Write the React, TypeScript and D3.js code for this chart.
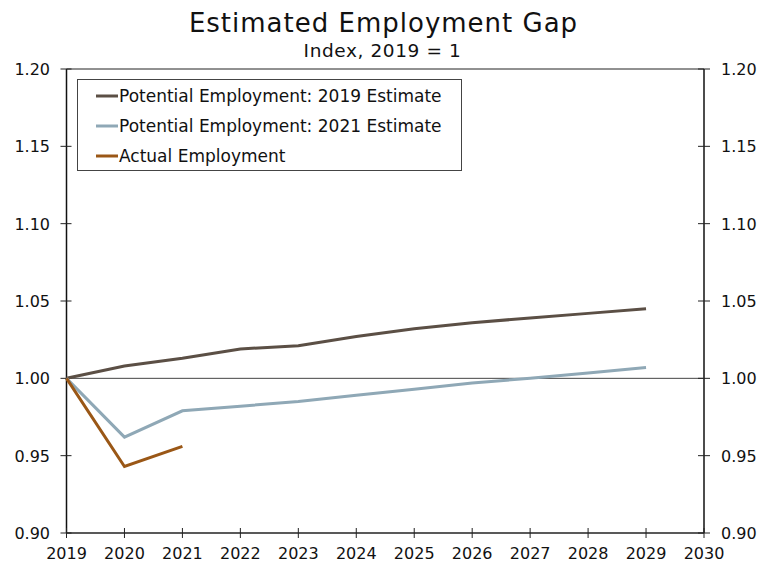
import React from "react";
import * as d3 from "d3";

const years = [2019, 2020, 2021, 2022, 2023, 2024, 2025, 2026, 2027, 2028, 2029];
const est2019 = [1.0, 1.008, 1.013, 1.019, 1.021, 1.027, 1.032, 1.036, 1.039, 1.042, 1.045];
const est2021 = [1.0, 0.962, 0.979, 0.982, 0.985, 0.989, 0.993, 0.997, 1.0, 1.0035, 1.007];
const actualYears = [2019, 2020, 2021];
const actual = [1.0, 0.943, 0.956];
const xTicks = [2019, 2020, 2021, 2022, 2023, 2024, 2025, 2026, 2027, 2028, 2029, 2030];
const yTicks = [0.9, 0.95, 1.0, 1.05, 1.1, 1.15, 1.2];
const seriesNames = [
  "Potential Employment: 2019 Estimate",
  "Potential Employment: 2021 Estimate",
  "Actual Employment",
];
const colors = ["#5b4f45", "#8fa8b6", "#9a5716"];

export default function App() {
  const W = 759, H = 565;
  const L = 66.5, R = 704, T = 69, B = 533;
  const x = d3.scaleLinear().domain([2019, 2030]).range([L, R]);
  const y = d3.scaleLinear().domain([0.9, 1.2]).range([B, T]);
  const line = d3.line<[number, number]>().x(d => x(d[0])).y(d => y(d[1]));
  const data: [number, number][][] = [
    years.map((yr, i) => [yr, est2019[i]]),
    years.map((yr, i) => [yr, est2021[i]]),
    actualYears.map((yr, i) => [yr, actual[i]]),
  ];
  const font = "DejaVu Sans, Verdana, sans-serif";
  return (
    <svg width={W} height={H} style={{ position: "absolute", left: 0, top: 0 }} fontFamily={font}>
      <rect width={W} height={H} fill="#fff" />
      <text x={383.5} y={32} textAnchor="middle" fontSize={26} letterSpacing={1} fill="#111">Estimated Employment Gap</text>
      <text x={382.5} y={57} textAnchor="middle" fontSize={18.5} letterSpacing={0.6} fill="#111">Index, 2019 = 1</text>
      {/* frame */}
      <line x1={L} x2={R} y1={T} y2={T} stroke="#222" strokeWidth={1} />
      <line x1={L} x2={L} y1={T} y2={B} stroke="#111" strokeWidth={1.5} />
      <line x1={R} x2={R} y1={T} y2={B} stroke="#111" strokeWidth={1.5} />
      <line x1={L} x2={R} y1={B} y2={B} stroke="#222" strokeWidth={1.5} />
      {/* zero line */}
      <line x1={L} x2={R} y1={y(1)} y2={y(1)} stroke="#444" strokeWidth={1} />
      {yTicks.map(t => (
        <g key={t}>
          <line x1={L - 6} x2={L + 5} y1={y(t)} y2={y(t)} stroke="#222" />
          <line x1={R - 6} x2={R + 6} y1={y(t)} y2={y(t)} stroke="#222" />
          <text x={50} y={y(t) + 6} textAnchor="end" fontSize={16} fill="#111">{t.toFixed(2)}</text>
          <text x={R + 17} y={y(t) + 6} textAnchor="start" fontSize={16} fill="#111">{t.toFixed(2)}</text>
        </g>
      ))}
      {xTicks.map(t => (
        <g key={t}>
          <line x1={x(t)} x2={x(t)} y1={B - 5} y2={B + 5} stroke="#222" />
          <text x={x(t)} y={B + 26} textAnchor="middle" fontSize={16} fill="#111">{t}</text>
        </g>
      ))}
      {data.map((d, i) => (
        <path key={i} d={line(d) || ""} fill="none" stroke={colors[i]} strokeWidth={3} />
      ))}
      {/* legend */}
      <rect x={77.5} y={79.5} width={384} height={91} fill="#fff" stroke="#444" strokeWidth={1} />
      {seriesNames.map((n, i) => (
        <g key={n}>
          <line x1={96} x2={118} y1={96 + i * 30} y2={96 + i * 30} stroke={colors[i]} strokeWidth={3} />
          <text x={119} y={102 + i * 30} fontSize={17} fill="#111">{n}</text>
        </g>
      ))}
    </svg>
  );
}
